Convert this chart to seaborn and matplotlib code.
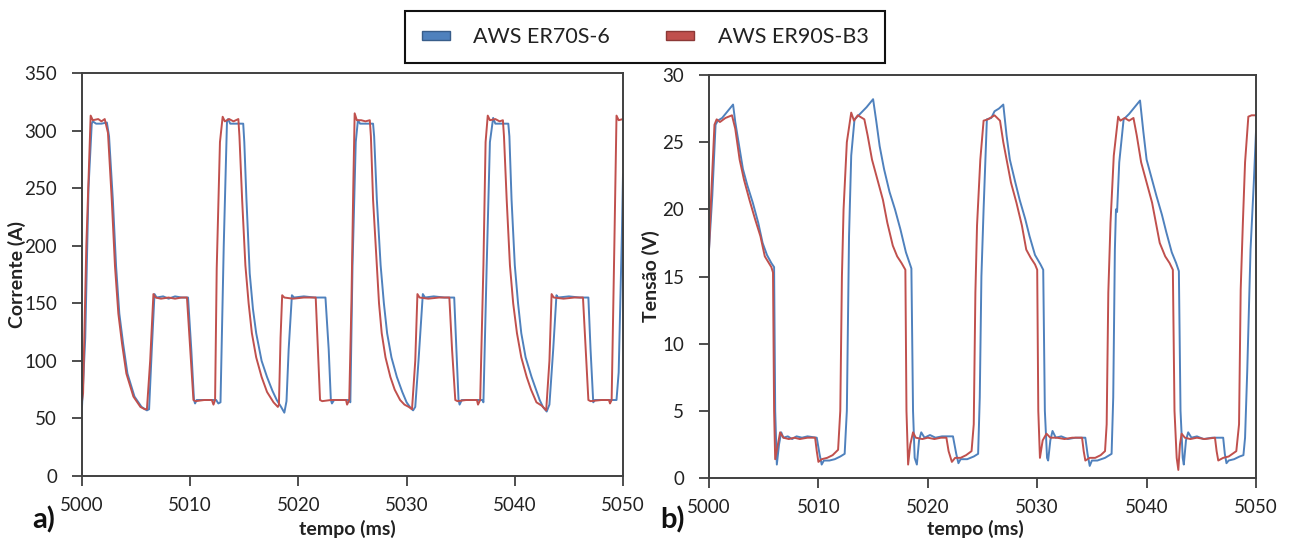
import matplotlib
matplotlib.use("Agg")
import matplotlib.pyplot as plt
from matplotlib.patches import Patch
import seaborn as sns
import pandas as pd

# ---------------- data ----------------
series_names = ["AWS ER70S-6", "AWS ER90S-B3"]
colors = ["#4F81BD", "#C0504D"]
edge_colors = ["#385D8A", "#8C3836"]

x_ticks = [5000, 5010, 5020, 5030, 5040, 5050]
cur_ticks = [0, 50, 100, 150, 200, 250, 300, 350]
vol_ticks = [0, 5, 10, 15, 20, 25, 30]

# Current, ER70S-6 (blue)
t_cur_blue = [5000.0, 5000.3, 5000.6, 5000.9, 5001.0, 5001.3, 5001.8, 5002.3, 5002.5, 5002.85,
              5003.15, 5003.45, 5003.8, 5004.2, 5004.85, 5005.5, 5006.0, 5006.2, 5006.45, 5006.7,
              5006.9, 5007.5, 5008.0, 5008.6, 5009.2, 5009.8, 5010.1, 5010.35, 5010.45, 5010.6,
              5011.5, 5012.4, 5012.6, 5012.8, 5013.1, 5013.4, 5013.5, 5013.7, 5014.5, 5014.9,
              5015.0, 5015.2, 5015.5, 5015.8, 5016.1, 5016.6, 5017.1, 5017.6, 5018.0, 5018.4,
              5018.7, 5018.9, 5019.1, 5019.4, 5019.6, 5020.5, 5021.5, 5022.5, 5022.8, 5023.0,
              5023.1, 5023.3, 5024.0, 5024.7, 5024.8, 5025.0, 5025.3, 5025.5, 5025.7, 5026.5,
              5026.9, 5027.0, 5027.25, 5027.6, 5027.9, 5028.2, 5028.6, 5029.1, 5029.6, 5030.0,
              5030.3, 5030.6, 5030.8, 5031.1, 5031.5, 5031.7, 5032.5, 5033.5, 5034.4, 5034.6,
              5034.8, 5034.9, 5035.1, 5036.0, 5037.0, 5037.1, 5037.4, 5037.7, 5038.0, 5038.2,
              5039.0, 5039.4, 5039.5, 5039.7, 5040.0, 5040.3, 5040.6, 5041.0, 5041.55, 5042.0,
              5042.3, 5042.6, 5042.95, 5043.2, 5043.55, 5043.85, 5044.0, 5045.0, 5046.0, 5046.8,
              5047.0, 5047.25, 5047.4, 5048.5, 5049.4, 5049.6, 5049.9, 5050.0]
i_blue = [60, 120, 250, 306, 308, 306, 306, 307, 295, 240,
          182, 141, 115, 89, 69, 60, 57, 58, 110, 158,
          155, 156, 154, 156, 155, 155, 110, 66, 63, 66,
          66, 66, 63, 64, 200, 308, 310, 306, 306, 306,
          290, 240, 176, 145, 124, 100, 86, 74, 66, 60,
          55, 65, 110, 157, 155, 156, 155, 155, 110, 66,
          63, 66, 66, 66, 64, 182, 290, 309, 306, 306,
          306, 295, 240, 183, 150, 124, 103, 86, 73, 64,
          60, 57, 60, 100, 158, 155, 156, 155, 155, 110,
          66, 62, 66, 66, 66, 64, 182, 290, 311, 306,
          306, 306, 295, 240, 183, 150, 124, 103, 86, 74,
          66, 60, 56, 62, 110, 157, 155, 156, 155, 155,
          110, 64, 66, 66, 66, 90, 211, 262]

# Current, ER90S-B3 (red)
t_cur_red = [5000.0, 5000.1, 5000.4, 5000.8, 5001.0, 5001.5, 5001.8, 5002.1, 5002.4, 5002.75,
             5003.05, 5003.36, 5003.7, 5004.1, 5004.75, 5005.4, 5005.8, 5006.0, 5006.3, 5006.6,
             5006.8, 5007.3, 5008.0, 5008.6, 5009.2, 5009.7, 5010.0, 5010.3, 5010.5, 5011.3,
             5012.0, 5012.15, 5012.3, 5012.45, 5012.75, 5013.0, 5013.2, 5013.6, 5014.0, 5014.45,
             5014.55, 5014.8, 5015.1, 5015.4, 5015.7, 5016.1, 5016.6, 5017.1, 5017.7, 5018.1,
             5018.2, 5018.35, 5018.5, 5018.7, 5019.5, 5020.5, 5021.6, 5021.8, 5022.0, 5022.2,
             5023.0, 5024.0, 5024.4, 5024.5, 5024.7, 5024.9, 5025.07, 5025.2, 5025.4, 5025.8,
             5026.2, 5026.6, 5026.7, 5026.9, 5027.25, 5027.45, 5027.7, 5028.05, 5028.5, 5028.9,
             5029.4, 5029.8, 5030.2, 5030.5, 5030.8, 5031.0, 5031.2, 5032.0, 5033.0, 5033.95,
             5034.2, 5034.5, 5034.7, 5035.5, 5036.5, 5036.6, 5036.8, 5037.1, 5037.3, 5037.5,
             5037.7, 5038.2, 5038.6, 5038.9, 5039.0, 5039.25, 5039.55, 5039.85, 5040.2, 5040.6,
             5041.1, 5041.5, 5042.0, 5042.5, 5042.9, 5043.2, 5043.4, 5043.6, 5044.5, 5045.5,
             5046.3, 5046.55, 5046.8, 5047.0, 5048.0, 5048.7, 5048.8, 5048.95, 5049.2, 5049.4,
             5049.6, 5050.0]
i_red = [65, 72, 200, 313, 309, 310, 308, 310, 298, 240,
         182, 141, 115, 89, 69, 60, 58, 58, 100, 158,
         155, 154, 155, 154, 155, 155, 110, 66, 65, 66,
         66, 62, 66, 180, 290, 312, 308, 310, 308, 310,
         295, 240, 183, 150, 124, 103, 86, 73, 64, 60,
         62, 120, 157, 155, 154, 155, 155, 110, 66, 65,
         66, 66, 66, 62, 66, 150, 250, 315, 309, 309,
         308, 309, 295, 240, 183, 150, 124, 103, 86, 75,
         66, 62, 60, 58, 100, 158, 155, 154, 155, 155,
         110, 66, 65, 66, 66, 62, 66, 183, 290, 313,
         309, 310, 308, 309, 295, 240, 183, 150, 124, 103,
         86, 75, 64, 61, 57, 100, 158, 155, 154, 155,
         155, 110, 66, 65, 66, 66, 63, 66, 200, 313,
         309, 310]

# Voltage, ER70S-6 (blue)
t_vol_blue = [5000.0, 5000.3, 5000.6, 5000.8, 5001.2, 5001.7, 5002.2, 5002.4, 5002.8, 5003.1,
              5003.5, 5004.0, 5004.5, 5004.9, 5005.3, 5005.7, 5005.95, 5006.05, 5006.2, 5006.4,
              5006.6, 5006.8, 5007.2, 5007.6, 5008.0, 5008.5, 5009.0, 5009.85, 5010.1, 5010.3,
              5010.5, 5011.0, 5011.5, 5012.0, 5012.4, 5012.6, 5012.8, 5013.0, 5013.3, 5013.8,
              5014.4, 5015.0, 5015.3, 5015.6, 5016.0, 5016.5, 5017.0, 5017.5, 5018.0, 5018.5,
              5018.65, 5018.8, 5019.0, 5019.2, 5019.4, 5019.7, 5020.2, 5020.7, 5021.3, 5022.3,
              5022.6, 5022.8, 5023.0, 5023.6, 5024.2, 5024.6, 5024.75, 5024.9, 5025.1, 5025.4,
              5025.8, 5026.1, 5026.5, 5026.9, 5027.2, 5027.5, 5028.0, 5028.4, 5028.9, 5029.3,
              5029.8, 5030.3, 5030.55, 5030.7, 5030.9, 5031.0, 5031.2, 5031.4, 5031.7, 5032.2,
              5032.8, 5033.5, 5034.4, 5034.6, 5034.8, 5035.0, 5035.5, 5036.2, 5036.8, 5036.95,
              5037.1, 5037.2, 5037.3, 5037.5, 5037.9, 5038.4, 5038.9, 5039.4, 5039.7, 5040.0,
              5040.5, 5040.9, 5041.4, 5041.8, 5042.3, 5042.7, 5042.95, 5043.1, 5043.3, 5043.4,
              5043.6, 5043.8, 5044.1, 5044.6, 5045.2, 5046.0, 5047.0, 5047.15, 5047.3, 5047.5,
              5048.0, 5048.5, 5048.85, 5049.0, 5049.2, 5049.5, 5049.8, 5050.0]
v_blue = [17.0, 21.0, 26.3, 26.6, 26.8, 27.3, 27.8, 26.5, 24.5, 23.0,
          21.8, 20.5, 19.0, 17.5, 16.6, 16.0, 15.7, 5.0, 1.0, 2.5,
          3.4, 3.0, 3.1, 2.9, 3.1, 3.0, 3.1, 3.0, 1.8, 1.0,
          1.3, 1.3, 1.4, 1.6, 1.8, 5.0, 18.0, 24.0, 26.7, 27.1,
          27.6, 28.2, 26.5, 24.7, 23.0, 21.3, 20.0, 18.5, 16.8, 15.6,
          5.0, 1.5, 1.0, 2.8, 3.4, 3.0, 3.2, 3.0, 3.1, 3.1,
          1.8, 1.1, 1.4, 1.4, 1.6, 1.8, 6.0, 15.0, 20.0, 26.7,
          26.8, 27.3, 27.5, 27.8, 25.5, 23.7, 22.0, 20.7, 19.3, 18.0,
          16.6, 15.9, 15.5, 5.0, 1.5, 1.3, 2.8, 3.5, 3.0, 3.1,
          2.9, 3.0, 3.0, 1.8, 0.9, 1.3, 1.3, 1.5, 1.8, 6.0,
          17.0, 20.0, 19.8, 23.5, 26.7, 27.1, 27.6, 28.1, 25.8, 23.7,
          22.2, 21.0, 19.6, 18.3, 16.8, 16.0, 15.4, 5.0, 1.5, 1.0,
          2.8, 3.4, 3.0, 3.1, 2.9, 3.0, 3.0, 1.8, 1.1, 1.3,
          1.4, 1.6, 1.7, 3.0, 8.0, 17.0, 22.0, 25.8]

# Voltage, ER90S-B3 (red)
t_vol_red = [5000.0, 5000.2, 5000.5, 5000.7, 5001.0, 5001.5, 5002.1, 5002.4, 5002.8, 5003.2,
             5003.7, 5004.2, 5004.7, 5005.1, 5005.7, 5005.85, 5005.95, 5006.05, 5006.3, 5006.5,
             5006.8, 5007.3, 5007.8, 5008.3, 5009.0, 5009.7, 5009.85, 5010.0, 5010.3, 5010.8,
             5011.3, 5011.8, 5012.0, 5012.15, 5012.3, 5012.6, 5013.0, 5013.25, 5013.6, 5014.2,
             5014.5, 5014.9, 5015.4, 5015.9, 5016.3, 5016.8, 5017.2, 5017.6, 5017.95, 5018.05,
             5018.2, 5018.4, 5018.65, 5018.9, 5019.5, 5020.0, 5020.6, 5021.2, 5021.7, 5021.9,
             5022.2, 5022.5, 5023.0, 5023.5, 5024.0, 5024.2, 5024.35, 5024.5, 5024.8, 5025.1,
             5025.5, 5026.1, 5026.6, 5026.9, 5027.2, 5027.6, 5028.1, 5028.6, 5029.0, 5029.4,
             5029.8, 5030.0, 5030.1, 5030.25, 5030.5, 5030.85, 5031.2, 5031.8, 5032.5, 5033.2,
             5034.1, 5034.25, 5034.4, 5034.8, 5035.3, 5035.8, 5036.2, 5036.35, 5036.5, 5036.7,
             5037.0, 5037.4, 5037.6, 5038.0, 5038.4, 5038.8, 5039.1, 5039.5, 5040.0, 5040.5,
             5040.9, 5041.2, 5041.7, 5042.1, 5042.4, 5042.55, 5042.75, 5042.9, 5043.05, 5043.2,
             5043.5, 5044.0, 5044.6, 5045.3, 5046.25, 5046.4, 5046.55, 5047.0, 5047.5, 5048.2,
             5048.45, 5048.6, 5048.8, 5049.0, 5049.3, 5049.6, 5050.0]
v_red = [17.0, 21.0, 26.3, 26.7, 26.5, 26.8, 27.0, 26.0, 23.7, 22.2,
         20.7, 19.3, 18.0, 16.5, 15.7, 15.3, 5.0, 1.4, 2.5, 3.4,
         3.0, 2.9, 3.0, 2.9, 3.0, 3.0, 2.0, 1.2, 1.4, 1.5,
         1.7, 2.1, 5.0, 15.0, 20.0, 25.0, 27.2, 26.6, 27.0, 26.7,
         25.5, 23.7, 22.2, 20.7, 19.0, 17.3, 16.5, 16.0, 15.5, 5.0,
         1.0, 2.5, 3.4, 3.0, 2.9, 3.0, 2.9, 3.0, 3.0, 2.0,
         1.2, 1.5, 1.5, 1.7, 2.0, 4.0, 13.8, 18.8, 23.7, 26.6,
         26.7, 27.0, 26.6, 25.0, 23.7, 22.0, 20.5, 18.8, 17.0, 16.4,
         15.9, 15.5, 5.0, 1.5, 2.8, 3.3, 3.0, 3.0, 2.9, 3.0,
         3.0, 2.0, 1.3, 1.5, 1.5, 1.7, 2.0, 4.0, 13.8, 19.0,
         24.0, 26.9, 26.6, 26.8, 26.6, 26.8, 25.5, 23.5, 22.0, 20.5,
         18.8, 17.5, 16.5, 16.0, 15.5, 5.0, 1.5, 0.6, 2.5, 3.3,
         3.0, 2.9, 3.0, 2.9, 3.0, 2.0, 1.3, 1.5, 1.6, 2.0,
         4.0, 14.0, 19.0, 23.5, 26.9, 27.0, 27.0]

# ---------------- tables ----------------
df_cur = pd.concat([
    pd.DataFrame({"t": t_cur_blue, "val": i_blue, "serie": series_names[0]}),
    pd.DataFrame({"t": t_cur_red, "val": i_red, "serie": series_names[1]}),
], ignore_index=True)
df_vol = pd.concat([
    pd.DataFrame({"t": t_vol_blue, "val": v_blue, "serie": series_names[0]}),
    pd.DataFrame({"t": t_vol_red, "val": v_red, "serie": series_names[1]}),
], ignore_index=True)

# ---------------- style ----------------
sns.set_theme(style="white")
plt.rcParams["font.family"] = ["Lato", "DejaVu Sans"]
plt.rcParams["text.color"] = "#222222"

fig = plt.figure(figsize=(12.92, 5.42), dpi=100)
ax1 = fig.add_axes([82 / 1292, 1 - 476 / 542, 541 / 1292, 403 / 542])
ax2 = fig.add_axes([709 / 1292, 1 - 478 / 542, 547 / 1292, 403 / 542])

palette = dict(zip(series_names, colors))

for ax, df, ticks, ylab in [(ax1, df_cur, cur_ticks, "Corrente (A)"),
                            (ax2, df_vol, vol_ticks, "Tensão (V)")]:
    sns.lineplot(data=df, x="t", y="val", hue="serie", hue_order=series_names,
                 palette=palette, estimator=None, sort=False, linewidth=1.4,
                 legend=False, ax=ax)
    ax.set_xlim(x_ticks[0], x_ticks[-1])
    ax.set_ylim(ticks[0], ticks[-1])
    ax.set_xticks(x_ticks)
    ax.set_yticks(ticks)
    ax.tick_params(axis="both", which="major", direction="out", length=7, width=1.3,
                   color="#404040", labelsize=13.5, labelcolor="#222222",
                   bottom=True, left=True)
    ax.tick_params(axis="y", pad=11)
    ax.tick_params(axis="x", pad=8)
    for sp in ax.spines.values():
        sp.set_visible(True)
        sp.set_color("#404040")
        sp.set_linewidth(1.4)
    ax.set_xlabel("tempo (ms)", fontsize=14, fontweight="bold", color="#222222")
    ax.set_ylabel(ylab, fontsize=14, fontweight="bold", color="#222222")
    ax.grid(False)

ax1.xaxis.set_label_coords(0.49, -0.108)
ax2.xaxis.set_label_coords(0.487, -0.103)
ax1.yaxis.set_label_coords(-0.1035, 0.5)
ax2.yaxis.set_label_coords(-0.09, 0.5)

fig.text(44 / 1292, 1 - 520 / 542, "a)", fontsize=21, fontweight="bold",
         ha="center", va="center", color="#111111")
fig.text(672 / 1292, 1 - 520 / 542, "b)", fontsize=21, fontweight="bold",
         ha="center", va="center", color="#111111")

handles = [Patch(facecolor=c, edgecolor=e, linewidth=1.0) for c, e in zip(colors, edge_colors)]
leg = fig.legend(handles, series_names, loc="center", bbox_to_anchor=(645 / 1292, 1 - 37 / 542),
                 ncol=2, fontsize=15.5, frameon=True, fancybox=False, shadow=False,
                 handlelength=1.3, handleheight=0.3, handletextpad=1.1,
                 columnspacing=2.6, borderpad=0.75, borderaxespad=0.0)
frame = leg.get_frame()
frame.set_edgecolor("#111111")
frame.set_linewidth(1.5)
frame.set_facecolor("white")
frame.set_alpha(1.0)

fig.savefig("out.png", dpi=100, facecolor="white")
